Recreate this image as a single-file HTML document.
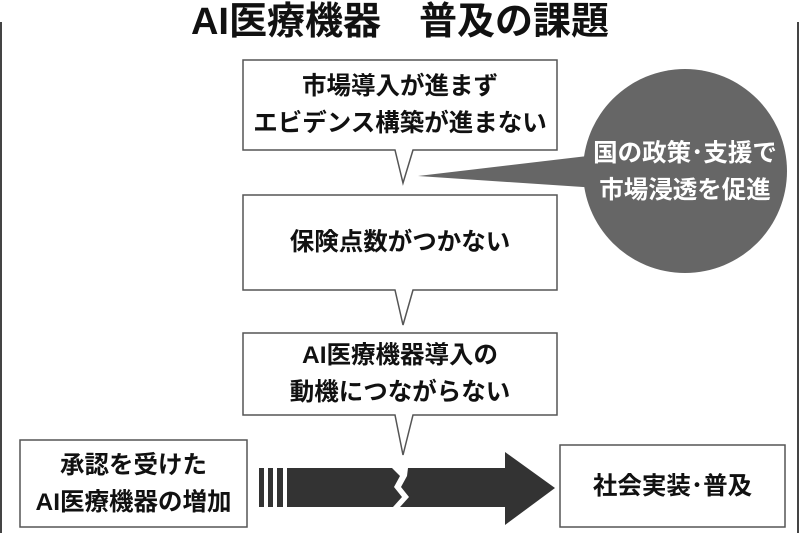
<!DOCTYPE html>
<html><head><meta charset="utf-8"><style>
body{margin:0;width:800px;height:533px;background:#fff;overflow:hidden;font-family:"Liberation Sans","Noto Sans CJK JP",sans-serif;}
svg{position:absolute;left:0;top:0}
.t{position:absolute;text-align:center;color:#111;font-size:24.5px;line-height:37px;font-weight:bold}
</style></head><body>
<svg width="800" height="533">
<line x1="1" y1="22" x2="1" y2="533" stroke="#444" stroke-width="2"/>
<line x1="798" y1="22" x2="798" y2="533" stroke="#444" stroke-width="2"/>
<path d="M243,60 H557 V150 H413 L403,183 L395,150 H243 Z" fill="#fff" stroke="#555" stroke-width="1.5"/>
<path d="M243,195 H557 V290 H413 L403,325 L395,290 H243 Z" fill="#fff" stroke="#555" stroke-width="1.5"/>
<path d="M243,333 H557 V415 H413 L403,455 L395,415 H243 Z" fill="#fff" stroke="#555" stroke-width="1.5"/>
<rect x="20" y="440" width="227" height="87" fill="#fff" stroke="#555" stroke-width="1.5"/>
<rect x="560" y="445" width="225" height="82" fill="#fff" stroke="#555" stroke-width="1.5"/>
<circle cx="685" cy="171" r="102" fill="#666"/>
<path d="M596,155 L418,176 L598,188 Z" fill="#666"/>
<rect x="259" y="468" width="5" height="39" fill="#333"/>
<rect x="268" y="468" width="5" height="39" fill="#333"/>
<rect x="277" y="468" width="6" height="39" fill="#333"/>
<path d="M287,468 H392 L400,476 L394,487 L402,497 L393,507 H287 Z" fill="#333"/>
<path d="M408,468 H505 V452 L555,488 L505,525 V507 H400 L409,497 L401,487 L407,476 Z" fill="#333"/>
</svg>
<div class="t" style="left:0;top:0px;width:800px;font-size:38px;line-height:44px">AI医療機器　普及の課題</div>
<div class="t" style="left:243px;top:68px;width:314px">市場導入が進まず<br>エビデンス構築が進まない</div>
<div class="t" style="left:243px;top:224px;width:314px">保険点数がつかない</div>
<div class="t" style="left:243px;top:337px;width:314px">AI医療機器導入の<br>動機につながらない</div>
<div class="t" style="left:20px;top:447px;width:227px">承認を受けた<br>AI医療機器の増加</div>
<div class="t" style="left:560px;top:468px;width:225px">社会実装･普及</div>
<div class="t" style="left:580px;top:135px;width:210px;color:#fff">国の政策･支援で<br>市場浸透を促進</div>
</body></html>
